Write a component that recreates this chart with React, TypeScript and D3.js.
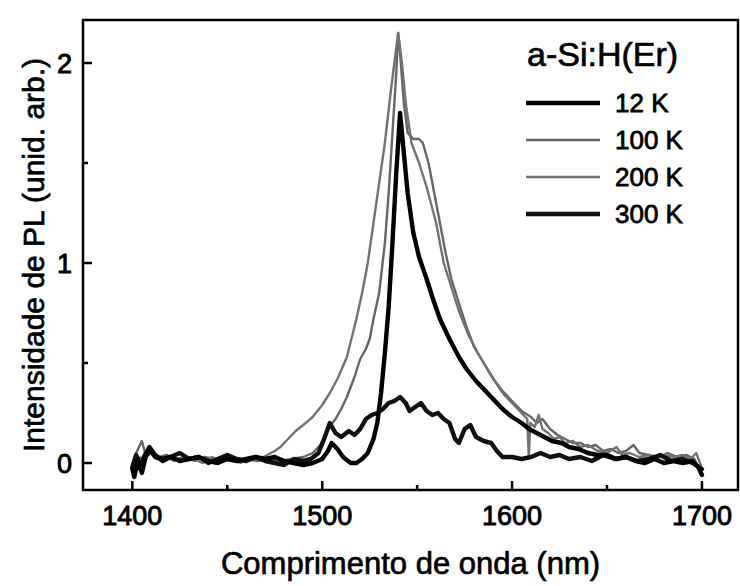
import React, { useEffect, useRef } from 'react';
import * as d3 from 'd3';

// PL spectra of a-Si:H(Er)
const wl12K = [1400, 1401, 1403, 1405, 1407, 1409, 1412, 1416, 1420, 1425, 1430, 1435, 1440, 1445, 1450, 1455, 1460, 1465, 1470, 1475, 1480, 1485, 1490, 1495, 1500, 1503, 1505, 1508, 1511, 1515, 1518, 1521, 1524, 1527, 1529, 1531, 1533, 1535, 1537, 1539, 1541, 1543, 1545, 1548, 1551, 1555, 1558, 1562, 1567, 1572, 1576, 1581, 1585, 1590, 1595, 1600, 1605, 1609, 1613, 1617, 1621, 1626, 1630, 1635, 1640, 1645, 1650, 1655, 1660, 1665, 1670, 1675, 1680, 1685, 1690, 1695, 1698, 1700];
const pl12K = [-0.03, -0.07, 0.02, -0.05, 0.03, 0.07, 0.03, 0.02, 0.03, 0.01, 0.02, 0.03, 0.01, 0.0, 0.02, 0.01, 0.02, 0.03, 0.02, 0.03, 0.01, 0.0, -0.01, 0.0, 0.02, 0.06, 0.1, 0.07, 0.03, 0.0, 0.0, 0.02, 0.05, 0.12, 0.2, 0.35, 0.55, 0.78, 1.1, 1.45, 1.75, 1.55, 1.35, 1.15, 1.03, 0.92, 0.83, 0.72, 0.62, 0.53, 0.47, 0.41, 0.37, 0.32, 0.27, 0.23, 0.2, 0.17, 0.15, 0.13, 0.11, 0.1, 0.08, 0.07, 0.05, 0.04, 0.04, 0.02, 0.03, 0.01, 0.0, 0.02, 0.0, 0.01, 0.0, 0.01, -0.02, -0.06];

const wl100K = [1400, 1402, 1405, 1407, 1410, 1414, 1418, 1423, 1428, 1433, 1438, 1444, 1450, 1455, 1460, 1466, 1472, 1478, 1484, 1490, 1495, 1499, 1503, 1507, 1510, 1513, 1517, 1520, 1523, 1525, 1527, 1530, 1533, 1535, 1537, 1539, 1540, 1541, 1543, 1545, 1548, 1551, 1553, 1556, 1559, 1562, 1565, 1568, 1572, 1576, 1580, 1585, 1590, 1595, 1600, 1605, 1610, 1613, 1616, 1620, 1624, 1628, 1632, 1636, 1640, 1644, 1648, 1652, 1656, 1660, 1664, 1667, 1672, 1677, 1682, 1687, 1692, 1696, 1699, 1700];
const pl100K = [-0.02, 0.05, 0.11, 0.04, 0.06, 0.03, 0.04, 0.02, 0.03, 0.01, 0.03, 0.02, 0.03, 0.01, 0.02, 0.01, 0.02, 0.01, 0.02, 0.03, 0.05, 0.09, 0.17, 0.22, 0.27, 0.33, 0.43, 0.52, 0.57, 0.62, 0.72, 0.85, 1.1, 1.35, 1.65, 1.95, 2.15, 2.05, 1.8, 1.65, 1.62, 1.62, 1.6, 1.5, 1.35, 1.2, 1.05, 0.92, 0.8, 0.68, 0.58, 0.5, 0.42, 0.36, 0.31, 0.26, 0.23, 0.2, 0.22, 0.17, 0.14, 0.12, 0.1, 0.1, 0.08, 0.09, 0.06, 0.07, 0.05, 0.06, 0.09, 0.05, 0.04, 0.03, 0.05, 0.03, 0.04, 0.02, -0.04, -0.06];

const wl200K = [1400, 1403, 1406, 1410, 1413, 1418, 1422, 1427, 1432, 1437, 1442, 1447, 1452, 1457, 1462, 1467, 1471, 1475, 1478, 1482, 1486, 1490, 1495, 1500, 1504, 1508, 1513, 1518, 1521, 1524, 1527, 1530, 1533, 1536, 1538, 1540, 1542, 1544, 1547, 1551, 1555, 1560, 1564, 1568, 1572, 1577, 1582, 1587, 1591, 1595, 1600, 1604, 1608, 1608.8, 1609.6, 1612, 1614, 1616, 1619, 1622, 1625, 1628, 1632, 1636, 1640, 1645, 1650, 1655, 1658, 1662, 1667, 1672, 1676, 1680, 1685, 1690, 1694, 1697, 1699, 1700];
const pl200K = [0.0, 0.03, 0.02, 0.05, 0.02, 0.03, 0.01, 0.03, 0.02, 0.0, 0.03, 0.01, 0.02, 0.0, 0.03, 0.02, 0.04, 0.06, 0.08, 0.12, 0.16, 0.19, 0.23, 0.29, 0.35, 0.42, 0.53, 0.72, 0.85, 1.0, 1.2, 1.4, 1.6, 1.85, 2.0, 2.15, 2.0, 1.8, 1.6, 1.5, 1.38, 1.2, 1.0, 0.88, 0.76, 0.64, 0.55, 0.47, 0.41, 0.35, 0.3, 0.26, 0.22, 0.03, 0.2, 0.18, 0.24, 0.17, 0.15, 0.12, 0.13, 0.1, 0.11, 0.08, 0.09, 0.06, 0.05, 0.08, 0.04, 0.05, 0.03, 0.04, 0.02, 0.04, 0.03, 0.04, 0.02, 0.05, 0.0, -0.03];

const wl300K = [1400, 1402, 1404, 1406, 1409, 1412, 1416, 1420, 1425, 1430, 1435, 1440, 1445, 1450, 1455, 1460, 1465, 1470, 1475, 1480, 1485, 1490, 1494, 1498, 1501, 1504, 1507, 1510, 1514, 1517, 1520, 1523, 1526, 1529, 1532, 1535, 1538, 1541, 1544, 1546, 1549, 1552, 1555, 1558, 1561, 1564, 1567, 1570, 1572, 1575, 1578, 1581, 1585, 1589, 1592, 1595, 1600, 1605, 1610, 1615, 1620, 1625, 1630, 1636, 1642, 1648, 1654, 1660, 1666, 1672, 1678, 1684, 1690, 1695, 1700];
const pl300K = [-0.02, 0.04, -0.03, 0.03, 0.08, 0.04, 0.01, 0.03, 0.05, 0.02, 0.03, 0.0, 0.02, 0.04, 0.02, 0.01, 0.03, 0.01, 0.0, -0.01, 0.02, 0.01, 0.02, 0.05, 0.12, 0.2, 0.15, 0.13, 0.16, 0.14, 0.17, 0.22, 0.24, 0.25, 0.27, 0.3, 0.31, 0.33, 0.3, 0.26, 0.28, 0.3, 0.26, 0.24, 0.25, 0.22, 0.2, 0.12, 0.1, 0.17, 0.19, 0.13, 0.11, 0.1, 0.06, 0.03, 0.03, 0.02, 0.03, 0.05, 0.03, 0.04, 0.02, 0.03, 0.01, 0.04, 0.02, 0.03, 0.01, 0.02, 0.04, 0.01, 0.02, 0.0, -0.03];

const seriesNames = ['12 K', '100 K', '200 K', '300 K'];
const xTicks = [1400, 1500, 1600, 1700];
const xMinorTicks = [1450, 1550, 1650];
const yTicks = [0, 1, 2];
const yMinorTicks = [0.5, 1.5];

const FONT = '"Liberation Sans", Arial, sans-serif';

const App: React.FC = () => {
  const svgRef = useRef<SVGSVGElement>(null);

  useEffect(() => {
    if (!svgRef.current) return;
    const svg = d3.select(svgRef.current);
    svg.selectAll('*').remove();

    const width = 740;
    const height = 586;
    const margin = { top: 20, right: 2, bottom: 96, left: 83 };

    const x = d3.scaleLinear()
      .domain([1374, 1719])
      .range([margin.left, width - margin.right]);
    const y = d3.scaleLinear()
      .domain([-0.135, 2.215])
      .range([height - margin.bottom, margin.top]);

    const series = [
      { name: seriesNames[0], wl: wl12K, pl: pl12K, color: '#000', w: 4.4 },
      { name: seriesNames[1], wl: wl100K, pl: pl100K, color: '#666', w: 2.4 },
      { name: seriesNames[2], wl: wl200K, pl: pl200K, color: '#727272', w: 2.4 },
      { name: seriesNames[3], wl: wl300K, pl: pl300K, color: '#111', w: 4.4 },
    ];

    const line = d3.line<[number, number]>()
      .x(d => x(d[0]))
      .y(d => y(d[1]))
      .curve(d3.curveLinear);

    // gray ones first, thick black on top
    [series[1], series[2], series[3], series[0]].forEach(s => {
      const pts = s.wl.map((v, i) => [v, s.pl[i]] as [number, number]);
      svg.append('path')
        .attr('d', line(pts) as string)
        .attr('fill', 'none')
        .attr('stroke', s.color)
        .attr('stroke-width', s.w)
        .attr('stroke-linejoin', 'round')
        .attr('stroke-linecap', 'round');
    });

    // frame
    svg.append('rect')
      .attr('x', margin.left)
      .attr('y', margin.top)
      .attr('width', width - margin.right - margin.left)
      .attr('height', height - margin.bottom - margin.top)
      .attr('fill', 'none')
      .attr('stroke', '#000')
      .attr('stroke-width', 2.5);

    const y0 = height - margin.bottom;

    // x ticks (inward)
    xTicks.forEach(t => {
      svg.append('line')
        .attr('x1', x(t)).attr('x2', x(t))
        .attr('y1', y0).attr('y2', y0 - 9)
        .attr('stroke', '#000').attr('stroke-width', 2.5);
      svg.append('text')
        .attr('x', x(t)).attr('y', y0 + 35)
        .attr('text-anchor', 'middle')
        .style('font-family', FONT).style('font-size', '27px')
        .style('stroke', '#000').style('stroke-width', 0.9)
        .text(t);
    });
    xMinorTicks.forEach(t => {
      svg.append('line')
        .attr('x1', x(t)).attr('x2', x(t))
        .attr('y1', y0).attr('y2', y0 - 5)
        .attr('stroke', '#000').attr('stroke-width', 2.5);
    });

    // y ticks (inward)
    yTicks.forEach(t => {
      svg.append('line')
        .attr('x1', margin.left).attr('x2', margin.left + 9)
        .attr('y1', y(t)).attr('y2', y(t))
        .attr('stroke', '#000').attr('stroke-width', 2.5);
      svg.append('text')
        .attr('x', margin.left - 11).attr('y', y(t) + 10)
        .attr('text-anchor', 'end')
        .style('font-family', FONT).style('font-size', '27px')
        .style('stroke', '#000').style('stroke-width', 0.9)
        .text(t);
    });
    yMinorTicks.forEach(t => {
      svg.append('line')
        .attr('x1', margin.left).attr('x2', margin.left + 5)
        .attr('y1', y(t)).attr('y2', y(t))
        .attr('stroke', '#000').attr('stroke-width', 2.5);
    });

    // axis titles
    svg.append('text')
      .attr('x', (margin.left + width - margin.right) / 2)
      .attr('y', 574)
      .attr('text-anchor', 'middle')
      .style('font-family', FONT).style('font-size', '31px')
      .style('stroke', '#000').style('stroke-width', 0.7)
      .text('Comprimento de onda (nm)');

    svg.append('text')
      .attr('transform', `translate(44, ${(margin.top + y0) / 2}) rotate(-90)`)
      .attr('text-anchor', 'middle')
      .style('font-family', FONT).style('font-size', '30px')
      .style('stroke', '#000').style('stroke-width', 0.7)
      .text('Intensidade de PL (unid. arb.)');

    // legend
    svg.append('text')
      .attr('x', 527).attr('y', 66)
      .style('font-family', FONT).style('font-size', '34px')
      .style('stroke', '#000').style('stroke-width', 0.7)
      .text('a-Si:H(Er)');

    series.forEach((s, i) => {
      const ly = 103 + i * 37;
      svg.append('line')
        .attr('x1', 526).attr('x2', 600)
        .attr('y1', ly).attr('y2', ly)
        .attr('stroke', s.color)
        .attr('stroke-width', s.w);
      svg.append('text')
        .attr('x', 615).attr('y', ly + 9)
        .style('font-family', FONT).style('font-size', '26px')
        .style('stroke', '#000').style('stroke-width', 0.8)
        .text(s.name);
    });
  }, []);

  return (
    <svg
      ref={svgRef}
      width={740}
      height={586}
      style={{ position: 'absolute', left: 0, top: 0, background: '#fff' }}
    />
  );
};

export default App;
